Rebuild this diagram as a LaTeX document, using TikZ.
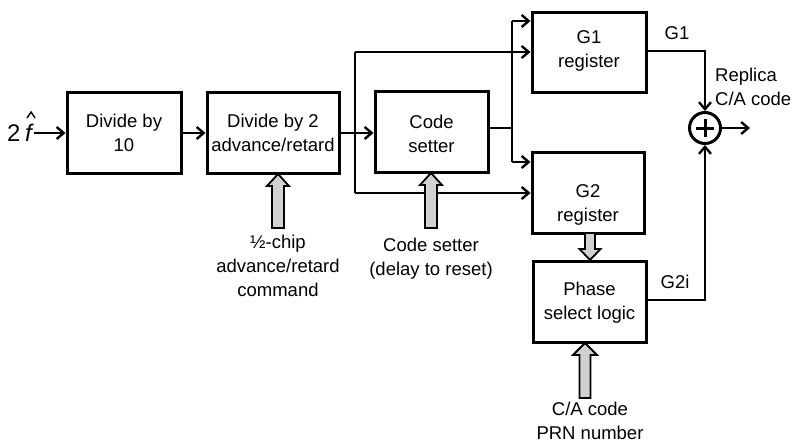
\documentclass[tikz,border=0pt]{standalone}
\usepackage{fontspec}
\setmainfont{Liberation Sans}
\usetikzlibrary{arrows.meta,calc}
\tikzset{
  blk/.style={draw,line width=3pt,align=center,inner sep=0pt,font=\fontsize{18.5}{24}\selectfont},
  conn/.style={line width=2.4pt,-{Straight Barb[length=7pt,width=12pt,line width=2.4pt]}},
  wire/.style={line width=2.4pt},
  fat/.style={draw,line width=1.8pt,fill=black!18,line join=miter},
  lbl/.style={align=center,inner sep=0pt,font=\fontsize{18.5}{24}\selectfont}
}
\newcommand{\fatarr}[5]{% tip, half shaft, half head, head len, total len
  \draw[fat] ($(#1)+(-#2,#5)$) -- ($(#1)+(-#2,#4)$) -- ($(#1)+(-#3,#4)$) -- (#1) -- ($(#1)+(#3,#4)$) -- ($(#1)+(#2,#4)$) -- ($(#1)+(#2,#5)$) -- cycle;}
\begin{document}
\begin{tikzpicture}[x=1pt,y=-1pt]
\useasboundingbox (0,0) rectangle (802,445);
% boxes
\node[blk,minimum width=114pt,minimum height=81pt] (d10) at (124,132.5) {Divide by\\10};
\node[blk,minimum width=132pt,minimum height=81pt] (d2) at (273,132.5) {Divide by 2\\advance/retard};
\node[blk,minimum width=113pt,minimum height=81pt] (cs) at (431.5,131.5) {};
\node[lbl] (cst) at (431.5,134) {Code\\setter};
\node[blk,minimum width=114pt,minimum height=80pt] (g1) at (589,52) {};
\node[lbl] (g1t) at (589,51) {G1\\register};
\node[blk,minimum width=112pt,minimum height=81pt] (g2) at (588,192.5) {};
\node[lbl] (g2t) at (588,205) {G2\\register};
\node[blk,minimum width=113pt,minimum height=81pt] (ps) at (589.5,301.5) {};
\node[lbl] (pst) at (589.5,302.5) {Phase\\select logic};
\node[draw,circle,line width=3pt,minimum size=31pt,inner sep=0pt] (x) at (705,128) {};
\draw[line width=3pt] ($(x.center)+(-9,0)$) -- ($(x.center)+(9,0)$) ($(x.center)+(0,-9)$) -- ($(x.center)+(0,9)$);
% input
\node[anchor=base west,inner sep=0pt,font=\fontsize{24}{26}\selectfont] (two) at (7,141) {2};
\node[anchor=base west,inner sep=0pt,font=\fontsize{24}{26}\selectfont\itshape] (f) at (25,141) {f};
\draw[line width=1.4pt,line join=miter] ($(f.base)+(-1.5,-23)$) -- ($(f.base)+(2.5,-29)$) -- ($(f.base)+(6.5,-23)$);
\coordinate (fin) at (34,133);
\draw[conn] (fin) -- (d10.west |- fin);
\draw[conn] (d10.east |- fin) -- (d2.west |- fin);
\draw[conn] (d2.east |- fin) -- (cs.west |- fin);
% left bus
\coordinate (bt) at (355,52);
\coordinate (bb) at (355,193);
\draw[wire] (bt) -- (bb);
\draw[conn] (bt) -- (g1.west |- bt);
\draw[conn] (bb) -- (g2.west |- bb);
% code setter bus
\coordinate (ct) at (512,21);
\coordinate (cb) at (512,162);
\draw[wire] (cs.east |- 0,128) -- (512,128);
\draw[wire] (ct) -- (cb);
\draw[conn] (ct) -- (g1.west |- ct);
\draw[conn] (cb) -- (g2.west |- cb);
% outputs
\draw[conn] (g1.east |- 0,51) -- (x.north |- 0,51) -- (x.north);
\draw[conn] (ps.east |- 0,300) -- (x.south |- 0,300) -- (x.south);
\draw[conn] (x.east) -- (750,128);
\node[lbl,anchor=center] (lg1) at (677,33) {G1};
\node[lbl,anchor=center] (lg2) at (675,282) {G2i};
\node[lbl,anchor=west,align=left] (rep) at (715,87) {Replica\\C/A code};
% fat arrows
\coordinate (t1) at (278,174);
\coordinate (t2) at (431,173);
\coordinate (t3) at (590,260);
\coordinate (t4) at (585,343);
\fatarr{t1}{6}{11}{12}{54}
\fatarr{t2}{6}{11}{12}{55}
\fatarr{t3}{5}{10.5}{-11}{-27}
\fatarr{t4}{5.5}{12}{12}{55}
% labels
\node[lbl] (l1) at (278,266) {½-chip\\advance/retard\\command};
\node[lbl] (l2) at (431,259) {Code setter\\(delay to reset)};
\node[lbl] (l3) at (590,421) {C/A code\\PRN number};
\end{tikzpicture}
\end{document}
